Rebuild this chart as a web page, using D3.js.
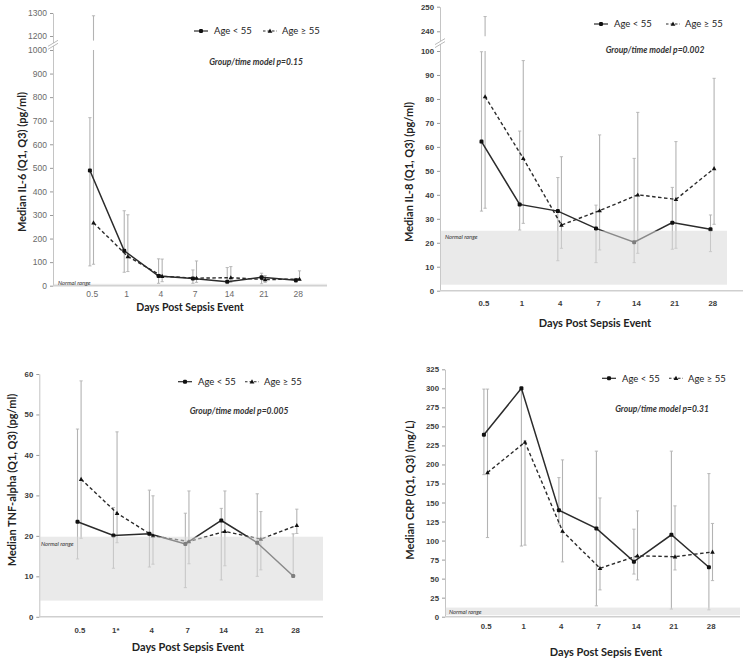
<!DOCTYPE html>
<html>
<head>
<meta charset="utf-8">
<script src="https://cdn.jsdelivr.net/npm/d3@7/dist/d3.min.js"></script>
<style>
  html, body { margin: 0; padding: 0; background: #fff; }
  svg { display: block; font-family: Lato, "Open Sans", sans-serif; }
</style>
</head>
<body>
<svg id="chart" width="748" height="661"></svg>
<script>
// ---------- data ----------
const days = ["0.5", "1", "4", "7", "14", "21", "28"];
const daysTnf = ["0.5", "1*", "4", "7", "14", "21", "28"];
const seriesNames = ["Age < 55", "Age \u2265 55"];

const il6Young   = [489, 148, 41, 31, 17, 36, 23];
const il6YoungQ1 = [84, 57, 10, 10, 8, 8, 14];
const il6YoungQ3 = [713, 318, 114, 67, 77, 53, 31];
const il6Old     = [267, 124, 40, 32, 34, 26, 28];
const il6OldQ1   = [91, 60, 17, 14, 14, 14, 23];
const il6OldQ3   = [1288, 301, 113, 105, 81, 43, 63];
const il6Ticks   = [0, 100, 200, 300, 400, 500, 600, 700, 800, 900, 1000, 1200, 1300];

const il8Young   = [62.2, 36, 33.2, 26, 20.2, 28.4, 25.6];
const il8YoungQ1 = [33.2, 25.3, 12.5, 11.7, 11.7, 17.3, 16.3];
const il8YoungQ3 = [99.7, 66.6, 47.2, 35.7, 55.2, 43.1, 31.6];
const il8Old     = [81, 55.2, 27.4, 33.4, 40, 38.1, 51];
const il8OldQ1   = [34.4, 28.1, 17.7, 17, 15.6, 17.7, 27.7];
const il8OldQ3   = [246, 96, 55.9, 65, 74.4, 62.2, 88.6];
const il8Ticks   = [0, 10, 20, 30, 40, 50, 60, 70, 80, 90, 100, 240, 250];

const tnfYoung   = [23.5, 20.1, 20.5, 18, 23.8, 18.3, 10.1];
const tnfYoungQ1 = [14.3, 12, 12.3, 7.2, 9.1, 10, 10];
const tnfYoungQ3 = [46.4, 27, 31.3, 25.6, 26.8, 30.4, 20.5];
const tnfOld     = [34, 25.6, 20, 18.6, 21.1, 19.2, 22.6];
const tnfOldQ1   = [19.4, 18.3, 13, 13.1, 12.6, 11.6, 20.6];
const tnfOldQ3   = [58.3, 45.7, 29.9, 31.1, 31.1, 26, 26.6];
const tnfTicks   = [0, 10, 20, 30, 40, 50, 60];

const crpYoung   = [239, 300, 140, 116, 72.3, 107.6, 65];
const crpYoungQ1 = [186.6, 92.8, 122, 14.3, 56, 10, 9];
const crpYoungQ3 = [299, 300, 182.7, 217.5, 115, 217.5, 188];
const crpOld     = [189.3, 229.3, 112.4, 63.6, 80, 78.8, 85];
const crpOldQ1   = [104, 94, 72, 35.2, 48.3, 61.4, 47.4];
const crpOldQ3   = [299, 231, 206, 156, 139, 145.6, 122.5];
const crpTicks   = [0, 25, 50, 75, 100, 125, 150, 175, 200, 225, 250, 275, 300, 325];

const normalIl6 = [0, 8];
const normalIl8 = [2.5, 25];
const normalTnf = [4, 19.8];
const normalCrp = [2, 12];

const yTitles = ["Median IL-6 (Q1, Q3) (pg/ml)", "Median IL-8 (Q1, Q3) (pg/ml)",
                 "Median TNF-alpha (Q1, Q3) (pg/ml)", "Median CRP (Q1, Q3) (mg/L)"];
const pTexts = ["Group/time model p=0.15", "Group/time model p=0.002",
                "Group/time model p=0.005", "Group/time model p=0.31"];
const xTitle = "Days Post Sepsis Event";

// ---------- layout ----------
const panels = [
  { cats: days, young: il6Young, yQ1: il6YoungQ1, yQ3: il6YoungQ3, old: il6Old, oQ1: il6OldQ1, oQ3: il6OldQ3,
    ticks: il6Ticks, normal: normalIl6, ydom: [0, 1000, 1180, 1300], yrng: [285.7, 50, 40.6, 13],
    brk: [1000, 1180], ax: 53, axEnd: 327, bandEnd: 327, xr: [91.7, 297.7], tickY: 294,
    yTitle: yTitles[0], titleX: 22, titleY: 162, xTitleX: 190, xTitleY: 311, xTitleSize: 10.5,
    legY: 31, leg1: 194, leg2: 263, pText: pTexts[0], pX: 256, pY: 65,
    normTxt: [58, 284.5], light: true },
  { cats: days, young: il8Young, yQ1: il8YoungQ1, yQ3: il8YoungQ3, old: il8Old, oQ1: il8OldQ1, oQ3: il8OldQ3,
    ticks: il8Ticks, normal: normalIl8, ydom: [0, 100, 238, 250], yrng: [290.7, 51, 36.2, 6.7],
    brk: [100, 238], ax: 440, axEnd: 743, bandEnd: 727, xr: [483.3, 712.3], tickY: 304,
    yTitle: yTitles[1], titleX: 409, titleY: 172, xTitleX: 595, xTitleY: 327, xTitleSize: 11,
    legY: 24, leg1: 594, leg2: 666, pText: pTexts[1], pX: 655, pY: 53,
    normTxt: [445, 239], light: false },
  { cats: daysTnf, young: tnfYoung, yQ1: tnfYoungQ1, yQ3: tnfYoungQ3, old: tnfOld, oQ1: tnfOldQ1, oQ3: tnfOldQ3,
    ticks: tnfTicks, normal: normalTnf, ydom: [0, 60], yrng: [616.8, 374],
    brk: null, ax: 39.3, axEnd: 323, bandEnd: 323, xr: [79.3, 295], tickY: 631,
    yTitle: yTitles[2], titleX: 12, titleY: 480, xTitleX: 188, xTitleY: 651, xTitleSize: 11,
    legY: 381.7, leg1: 178, leg2: 245, pText: pTexts[2], pX: 239, pY: 414,
    normTxt: [41, 545.5], light: false },
  { cats: days, young: crpYoung, yQ1: crpYoungQ1, yQ3: crpYoungQ3, old: crpOld, oQ1: crpOldQ1, oQ3: crpOldQ3,
    ticks: crpTicks, normal: normalCrp, ydom: [0, 325], yrng: [616.7, 369.3],
    brk: null, ax: 445, axEnd: 740, bandEnd: 740, xr: [485.7, 710.7], tickY: 627,
    yTitle: yTitles[3], titleX: 410, titleY: 490, xTitleX: 606, xTitleY: 656, xTitleSize: 11,
    legY: 378.3, leg1: 602, leg2: 669, pText: pTexts[3], pX: 662, pY: 412,
    normTxt: [449, 613.5], light: false }
];

const svg = d3.select("#chart");
const lineColor = "#2b2b2b";
const barColor = "#b3b3b3";
const off = 1.8;

function triPath(cx, cy, s) {
  return `M${cx},${cy - s}L${cx + s * 0.95},${cy + s * 0.7}L${cx - s * 0.95},${cy + s * 0.7}Z`;
}

panels.forEach((p, pi) => {
  const g = svg.append("g");
  const x = d3.scalePoint().domain(p.cats).range(p.xr);
  const y = d3.scaleLinear().domain(p.ydom).range(p.yrng);
  const y0 = y(0);

  // y axis
  const yAxis = d3.axisLeft(y).tickValues(p.ticks).tickSize(3).tickSizeOuter(0).tickFormat(d3.format("d"));
  const ya = g.append("g").attr("transform", `translate(${p.ax},0)`).call(yAxis);
  ya.select(".domain").attr("stroke", "#c4c4c4").attr("stroke-width", 1);
  ya.selectAll(".tick line").attr("stroke", "#9a9a9a");
  ya.selectAll(".tick text")
    .attr("x", -6)
    .style("font-size", p.light ? "8.5px" : "7.8px")
    .style("font-weight", p.light ? "400" : "700")
    .attr("fill", p.light ? "#6a6a6a" : "#3a3a3a");

  // x axis
  const xAxis = d3.axisBottom(x).tickSize(0).tickSizeOuter(0);
  const xa = g.append("g").attr("transform", `translate(0,${y0})`).call(xAxis);
  xa.select(".domain").remove();
  g.append("line").attr("x1", p.ax).attr("x2", p.axEnd).attr("y1", y0).attr("y2", y0)
    .attr("stroke", "#cfcfcf").attr("stroke-width", 1.6);
  xa.selectAll(".tick text")
    .attr("y", p.tickY - y0)
    .attr("dy", "0.32em")
    .style("font-size", p.light ? "8.5px" : "7.8px")
    .style("font-weight", p.light ? "400" : "700")
    .attr("fill", p.light ? "#6a6a6a" : "#3a3a3a");

  // axis break marks
  if (p.brk) {
    const yb = (y(p.brk[0]) + y(p.brk[1])) / 2;
    g.append("path")
      .attr("d", `M${p.ax - 5},${yb + 1}L${p.ax + 5},${yb - 5}L${p.ax + 5},${yb - 2}L${p.ax - 5},${yb + 4}Z`)
      .attr("fill", "#fff");
    [0, 3].forEach(d => {
      g.append("line")
        .attr("x1", p.ax - 5).attr("y1", yb + 1 + d)
        .attr("x2", p.ax + 5).attr("y2", yb - 5 + d)
        .attr("stroke", "#a8a8a8").attr("stroke-width", 0.8);
    });
  }

  // error bars
  function bars(q1, q3, dx) {
    p.cats.forEach((c, i) => {
      const cx = x(c) + dx;
      const segs = [];
      if (p.brk && q3[i] > p.brk[0]) {
        segs.push([q1[i], p.brk[0]]);
        segs.push([p.brk[1], q3[i]]);
      } else {
        segs.push([q1[i], q3[i]]);
      }
      segs.forEach(s => {
        g.append("line").attr("x1", cx).attr("x2", cx)
          .attr("y1", y(s[0])).attr("y2", y(s[1]))
          .attr("stroke", barColor).attr("stroke-width", 1.1);
      });
      [q1[i], q3[i]].forEach(v => {
        g.append("line").attr("x1", cx - 1.6).attr("x2", cx + 1.6)
          .attr("y1", y(v)).attr("y2", y(v))
          .attr("stroke", barColor).attr("stroke-width", 0.9);
      });
    });
  }
  bars(p.yQ1, p.yQ3, -off);
  bars(p.oQ1, p.oQ3, off);

  // lines
  const lineYoung = d3.line().x((d, i) => x(p.cats[i]) - off).y(d => y(d));
  const lineOld = d3.line().x((d, i) => x(p.cats[i]) + off).y(d => y(d));
  g.append("path").attr("d", lineOld(p.old)).attr("fill", "none")
    .attr("stroke", lineColor).attr("stroke-width", 1.4).attr("stroke-dasharray", "3.5,2.5");
  g.append("path").attr("d", lineYoung(p.young)).attr("fill", "none")
    .attr("stroke", lineColor).attr("stroke-width", 1.5);

  // markers
  p.young.forEach((v, i) => {
    g.append("rect").attr("x", x(p.cats[i]) - off - 2).attr("y", y(v) - 2)
      .attr("width", 4).attr("height", 4).attr("rx", 1.2).attr("fill", "#111");
  });
  p.old.forEach((v, i) => {
    g.append("path").attr("d", triPath(x(p.cats[i]) + off, y(v), 2.4)).attr("fill", "#111");
  });

  // normal range band (semi-transparent overlay)
  g.append("rect")
    .attr("x", p.ax + 0.5).attr("width", p.bandEnd - p.ax - 0.5)
    .attr("y", y(p.normal[1])).attr("height", y(p.normal[0]) - y(p.normal[1]))
    .attr("fill", "#d8d8d8").attr("fill-opacity", 0.55);
  g.append("text").attr("x", p.normTxt[0]).attr("y", p.normTxt[1])
    .text("Normal range")
    .style("font-size", "5.8px").style("font-style", "italic").attr("fill", "#333");

  // titles
  g.append("text")
    .attr("transform", `translate(${p.titleX},${p.titleY}) rotate(-90)`)
    .attr("text-anchor", "middle").attr("dy", "0.35em")
    .style("font-size", "11px").style("font-weight", "700").attr("fill", "#222")
    .text(p.yTitle);
  g.append("text")
    .attr("x", p.xTitleX).attr("y", p.xTitleY)
    .attr("text-anchor", "middle")
    .style("font-size", p.xTitleSize + "px").style("font-weight", "700").attr("fill", "#222")
    .text(xTitle);

  // legend
  const lg = g.append("g");
  lg.append("line").attr("x1", p.leg1).attr("x2", p.leg1 + 14).attr("y1", p.legY).attr("y2", p.legY)
    .attr("stroke", lineColor).attr("stroke-width", 1.2);
  lg.append("rect").attr("x", p.leg1 + 5).attr("y", p.legY - 2).attr("width", 4).attr("height", 4)
    .attr("rx", 1.2).attr("fill", "#111");
  lg.append("text").attr("x", p.leg1 + 20).attr("y", p.legY).attr("dy", "0.35em")
    .style("font-size", "9.5px").attr("fill", "#222").text(seriesNames[0]);
  lg.append("line").attr("x1", p.leg2).attr("x2", p.leg2 + 14).attr("y1", p.legY).attr("y2", p.legY)
    .attr("stroke", lineColor).attr("stroke-width", 1.1).attr("stroke-dasharray", "2.5,2");
  lg.append("path").attr("d", triPath(p.leg2 + 7, p.legY, 2.5)).attr("fill", "#111");
  lg.append("text").attr("x", p.leg2 + 19).attr("y", p.legY).attr("dy", "0.35em")
    .style("font-size", "9.5px").attr("fill", "#222").text(seriesNames[1]);

  // model p text
  g.append("text").attr("x", p.pX).attr("y", p.pY).attr("text-anchor", "middle")
    .style("font-size", "8.5px").style("font-weight", "700").style("font-style", "italic")
    .attr("fill", "#333").text(p.pText);
});
</script>
</body>
</html>
